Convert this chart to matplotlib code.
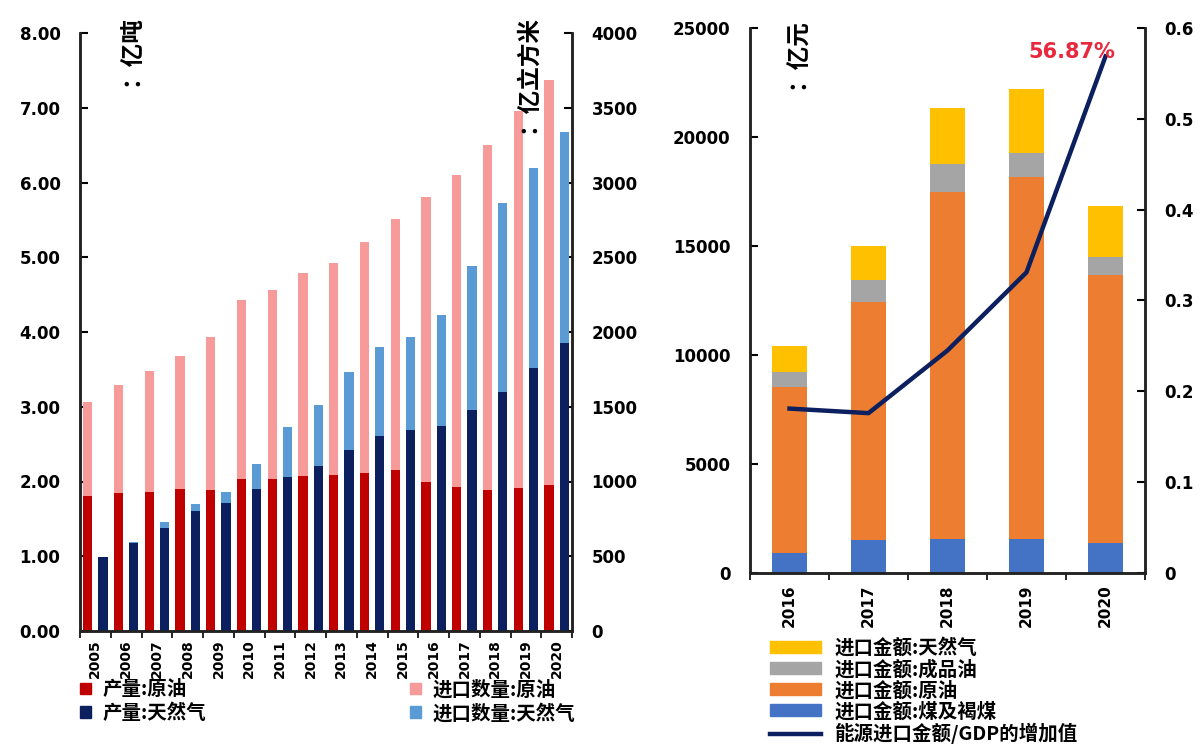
import matplotlib
matplotlib.use("Agg")
from matplotlib import pyplot as plt
from matplotlib.patches import Patch
from matplotlib.lines import Line2D
import numpy as np

CJK = ['Noto Sans CJK SC', 'DejaVu Sans']

# Left chart: production and imports of crude oil (亿吨) and natural gas (亿立方米)
years = [str(y) for y in range(2005, 2021)]
oil_prod = [1.81, 1.85, 1.86, 1.90, 1.89, 2.03, 2.03, 2.07, 2.09, 2.11, 2.15, 2.00, 1.92, 1.89, 1.91, 1.95]
oil_imp = [1.26, 1.44, 1.62, 1.78, 2.04, 2.40, 2.53, 2.72, 2.83, 3.09, 3.36, 3.81, 4.18, 4.61, 5.05, 5.42]
gas_prod = [493, 586, 692, 803, 853, 948, 1027, 1106, 1209, 1302, 1346, 1369, 1480, 1602, 1762, 1925]
gas_imp = [0, 9, 38, 47, 77, 172, 338, 406, 523, 598, 621, 746, 960, 1258, 1338, 1413]

# Right chart: energy import value (亿元) and ratio line
years_r = ['2016', '2017', '2018', '2019', '2020']
imp_coal = [917, 1514, 1560, 1560, 1376]
imp_crude = [7615, 10917, 15917, 16605, 12294]
imp_products = [688, 1009, 1284, 1101, 825]
imp_gas = [1193, 1560, 2569, 2934, 2340]
ratio = [0.181, 0.176, 0.245, 0.331, 0.5687]

C_RED, C_PINK, C_NAVY, C_LBLUE = '#C00000', '#F79A9A', '#0C1F5E', '#5B9BD5'
C_GOLD, C_GRAY, C_ORANGE, C_BLUE = '#FFC000', '#A5A5A5', '#ED7D31', '#4472C4'

W, H = 1202, 746
fig = plt.figure(figsize=(W / 100, H / 100), dpi=100)


def px_axes(l, r, t, b):
    return fig.add_axes([l / W, (H - b) / H, (r - l) / W, (b - t) / H])


def style_axes(ax, axr):
    for a in (ax, axr):
        a.spines['top'].set_visible(False)
        for s in a.spines.values():
            s.set_linewidth(1.8)
            s.set_color('#222222')
    ax.tick_params(axis='y', direction='in', length=6, width=1.5, labelsize=12, pad=14)
    axr.tick_params(axis='y', direction='in', length=6, width=1.5, labelsize=12, pad=14)
    for a in (ax, axr):
        for lab in a.get_yticklabels():
            lab.set_fontweight('bold')


# ---- left chart
ax1 = px_axes(80, 572, 33, 631)
ax2 = ax1.twinx()
x = np.arange(len(years))
bw = 0.3
ax1.bar(x - 0.25, oil_prod, bw, color=C_RED, zorder=2)
ax1.bar(x - 0.25, oil_imp, bw, bottom=oil_prod, color=C_PINK, zorder=2)
ax2.bar(x + 0.25, gas_prod, bw, color=C_NAVY, zorder=2)
ax2.bar(x + 0.25, gas_imp, bw, bottom=gas_prod, color=C_LBLUE, zorder=2)
ax1.set_xlim(-0.5, len(years) - 0.5)
ax1.set_ylim(0, 8)
ax2.set_ylim(0, 4000)
ax1.set_yticks(np.arange(0, 8.01, 1))
ax1.set_yticklabels(['%.2f' % v for v in np.arange(0, 8.01, 1)])
ax2.set_yticks(np.arange(0, 4001, 500))
ax1.set_xticks(x)
ax1.set_xticklabels(years, rotation=90, fontsize=10, fontweight='bold')
ax1.set_xticks(np.arange(-0.5, len(years), 1), minor=True)
ax1.tick_params(axis='x', which='major', length=0, pad=6)
ax1.tick_params(axis='x', which='minor', direction='out', length=5, width=1.2)
style_axes(ax1, ax2)

fig.text(130 / W, 1 - 15 / H, '：亿吨', rotation=90, ha='center', va='top',
         fontsize=17, family=CJK, fontweight='bold')
fig.text(527 / W, 1 - 15 / H, '：亿立方米', rotation=90, ha='center', va='top',
         fontsize=17, family=CJK, fontweight='bold')

h_left = [Patch(color=C_RED), Patch(color=C_NAVY), Patch(color=C_PINK), Patch(color=C_LBLUE)]
l_left = ['产量:原油', '产量:天然气', '进口数量:原油', '进口数量:天然气']
fig.legend(h_left, l_left, loc='upper left', bbox_to_anchor=(80 / W, 1 - 680 / H),
           ncol=2, frameon=False, prop={'family': CJK, 'size': 14, 'weight': 'bold'},
           handlelength=0.55, handleheight=0.55, handletextpad=0.6,
           columnspacing=10.5, labelspacing=0.2, borderaxespad=0, borderpad=0)

# ---- right chart
ax3 = px_axes(750, 1145, 28, 573)
ax4 = ax3.twinx()
xr = np.arange(len(years_r))
bw_r = 0.44
b1 = np.array(imp_coal)
b2 = b1 + np.array(imp_crude)
b3 = b2 + np.array(imp_products)
ax3.bar(xr, imp_coal, bw_r, color=C_BLUE, zorder=2)
ax3.bar(xr, imp_crude, bw_r, bottom=b1, color=C_ORANGE, zorder=2)
ax3.bar(xr, imp_products, bw_r, bottom=b2, color=C_GRAY, zorder=2)
ax3.bar(xr, imp_gas, bw_r, bottom=b3, color=C_GOLD, zorder=2)
ax4.plot(xr, ratio, color=C_NAVY, lw=3.2, zorder=3)
ax3.set_xlim(-0.5, len(years_r) - 0.5)
ax3.set_ylim(0, 25000)
ax4.set_ylim(0, 0.6)
ax3.set_yticks(np.arange(0, 25001, 5000))
ax4.set_yticks(np.arange(0, 0.61, 0.1))
ax4.set_yticklabels(['0', '0.1', '0.2', '0.3', '0.4', '0.5', '0.6'])
ax3.set_xticks(xr)
ax3.set_xticklabels(years_r, rotation=90, fontsize=11, fontweight='bold')
ax3.set_xticks(np.arange(-0.5, len(years_r), 1), minor=True)
ax3.tick_params(axis='x', which='major', length=0, pad=8)
ax3.tick_params(axis='x', which='minor', direction='out', length=5, width=1.2)
style_axes(ax3, ax4)

ax4.annotate('56.87%', xy=(xr[-1], ratio[-1]), xytext=(7, 3), textcoords='offset points',
             ha='right', va='center', color='#E8283C', fontsize=15, fontweight='bold')

fig.text(797 / W, 1 - 18 / H, '：亿元', rotation=90, ha='center', va='top',
         fontsize=17, family=CJK, fontweight='bold')

h_right = [Patch(color=C_GOLD), Patch(color=C_GRAY), Patch(color=C_ORANGE), Patch(color=C_BLUE),
           Line2D([], [], color=C_NAVY, lw=3.2)]
l_right = ['进口金额:天然气', '进口金额:成品油', '进口金额:原油', '进口金额:煤及褐煤',
           '能源进口金额/GDP的增加值']
fig.legend(h_right, l_right, loc='upper left', bbox_to_anchor=(770 / W, 1 - 638 / H),
           frameon=False, prop={'family': CJK, 'size': 14, 'weight': 'bold'},
           handlelength=2.6, handleheight=0.6, handletextpad=0.7,
           labelspacing=0.08, borderaxespad=0, borderpad=0)

fig.savefig('out.png', dpi=100)
